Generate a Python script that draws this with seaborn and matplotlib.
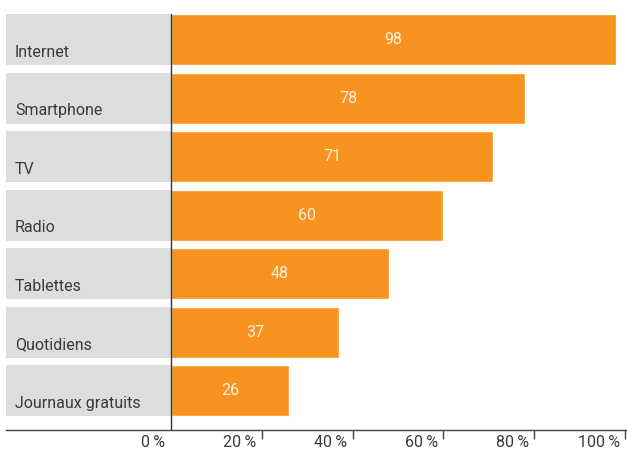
import matplotlib
matplotlib.use("Agg")
import matplotlib.pyplot as plt
import matplotlib.transforms as mtransforms
import seaborn as sns
import pandas as pd

# data
categories = ["Internet", "Smartphone", "TV", "Radio", "Tablettes",
              "Quotidiens", "Journaux gratuits"]
values = [98, 78, 71, 60, 48, 37, 26]
tick_values = [0, 20, 40, 60, 80, 100]
tick_labels = ["0\u2009%", "20\u2009%", "40\u2009%", "60\u2009%", "80\u2009%", "100\u2009%"]

ORANGE = "#F7931E"
GREY = "#DCDDDE"
TEXT = "#3A3A3A"

sns.set_theme(style="white")
plt.rcParams["font.family"] = ["Roboto", "DejaVu Sans"]

df = pd.DataFrame({"media": categories, "share": values})

fig = plt.figure(figsize=(6.27, 4.49), dpi=100)
ax = fig.add_axes([6 / 627, 19 / 449, 621 / 627, 416 / 449])

bar_h = 0.872
left_edge = -36.3

# grey label boxes behind the category names
ax.barh(range(len(categories)), [-left_edge] * len(categories), left=left_edge,
        height=bar_h, color=GREY, linewidth=0, zorder=1)

sns.barplot(data=df, y="media", x="share", orient="h", color=ORANGE,
            width=bar_h, saturation=1, ax=ax, zorder=2)

ax.set_xlim(left_edge, 100.4)
ax.set_ylim(6.675, -0.436)

# value labels in the middle of each bar
for i, v in enumerate(values):
    ax.text(v / 2, i, str(v), ha="center", va="center",
            color="#FDF1E2", fontsize=11.5, zorder=3)

# category names, bottom-left inside the grey boxes
for i, name in enumerate(categories):
    ax.text(left_edge + 2, i + bar_h / 2 - 0.14, name, ha="left",
            va="baseline", color=TEXT, fontsize=11.5, zorder=3)

# axes decoration
ax.axvline(0, color="#333333", linewidth=1.0, zorder=4)
for side in ["top", "right", "left"]:
    ax.spines[side].set_visible(False)
ax.spines["bottom"].set_color("#444444")
ax.spines["bottom"].set_linewidth(1.0)

ax.set_yticks([])
ax.set_ylabel("")
ax.set_xlabel("")
ax.set_xticks(tick_values[1:])
ax.set_xticklabels([])
ax.tick_params(axis="x", direction="out", length=6.5, width=1.0,
               color="#444444", bottom=True)

offset = mtransforms.ScaledTranslation(-4 / 72, -2 / 72, fig.dpi_scale_trans)
trans = ax.get_xaxis_transform() + offset
for tv, tl in zip(tick_values, tick_labels):
    ax.text(tv, -0.005, tl, transform=trans, ha="right", va="top",
            color=TEXT, fontsize=11.5)

fig.savefig("out.png", dpi=100)
